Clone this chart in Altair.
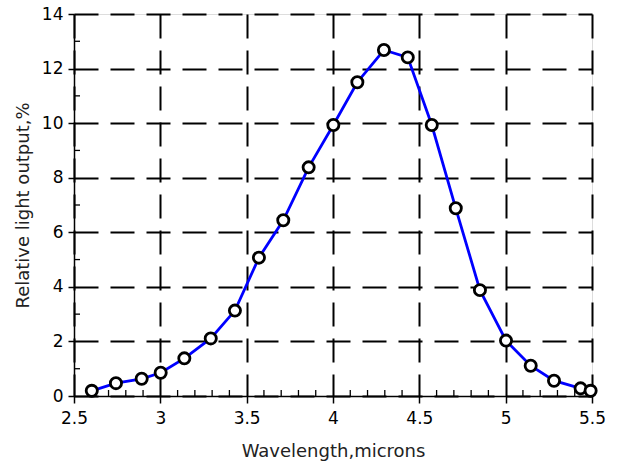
import altair as alt
import pandas as pd

wavelength = [2.603, 2.743, 2.892, 3.002, 3.139, 3.292, 3.432, 3.571, 3.712, 3.859, 4.002,
              4.141, 4.295, 4.433, 4.572, 4.711, 4.851, 5.002, 5.145, 5.280, 5.434, 5.492]
output = [0.19, 0.47, 0.63, 0.85, 1.38, 2.11, 3.13, 5.07, 6.44, 8.38, 9.93,
          11.5, 12.68, 12.41, 9.93, 6.88, 3.88, 2.03, 1.11, 0.56, 0.28, 0.19]

x_ticks = [2.5, 3, 3.5, 4, 4.5, 5, 5.5]
y_ticks = [0, 2, 4, 6, 8, 10, 12, 14]
x_minor = [round(2.5 + 0.1 * i, 1) for i in range(31) if i % 5 != 0]
y_minor = [1, 3, 5, 7, 9, 11, 13]

df = pd.DataFrame({"x": wavelength, "y": output})
FONT = "DejaVu Sans"

xs = alt.Scale(domain=[2.5, 5.5], nice=False, zero=False)
ys = alt.Scale(domain=[0, 14], nice=False)

base = alt.Chart(df)

common = dict(labelFontSize=17, titleFontSize=18, labelFont=FONT, titleFont=FONT,
              labelColor="#000", titleColor="#222", titleFontWeight="normal",
              tickColor="#000", tickWidth=1.5, domainColor="#000", domainWidth=1.5,
              grid=True, gridColor="#000", gridDash=[24, 12],
              gridWidth=2, labelFlush=False)

line = base.mark_line(color="#0000ff", strokeWidth=2.8).encode(
    x=alt.X("x:Q", scale=xs, title="Wavelength,microns",
            axis=alt.Axis(values=x_ticks, format="~g", tickSize=7, labelPadding=7,
                          titlePadding=16, **common)),
    y=alt.Y("y:Q", scale=ys, title="Relative light output,%",
            axis=alt.Axis(values=y_ticks, tickSize=6, labelPadding=5,
                          titlePadding=9, **common)),
)

points = base.mark_point(shape="circle", filled=False, fill="white", fillOpacity=1,
                         stroke="black", strokeWidth=2.8, size=125, opacity=1).encode(
    x=alt.X("x:Q", scale=xs), y=alt.Y("y:Q", scale=ys))

xminor = alt.Chart(pd.DataFrame({"m": x_minor})).mark_rule(color="#000", strokeWidth=1.3).encode(
    x=alt.X("m:Q", scale=xs), y=alt.value(382), y2=alt.value(376))

yminor = alt.Chart(pd.DataFrame({"m": y_minor})).mark_rule(color="#000", strokeWidth=1.3).encode(
    y=alt.Y("m:Q", scale=ys), x=alt.value(0), x2=alt.value(6))

chart = alt.layer(xminor, yminor, line, points).properties(
    width=518, height=382,
    autosize=alt.AutoSizeParams(type="none"),
    padding={"left": 74, "top": 14, "right": 27, "bottom": 70},
).configure_view(stroke="#888", strokeWidth=1).configure(background="white")

chart.save("out.html", embed_options={"renderer": "svg", "actions": False})
